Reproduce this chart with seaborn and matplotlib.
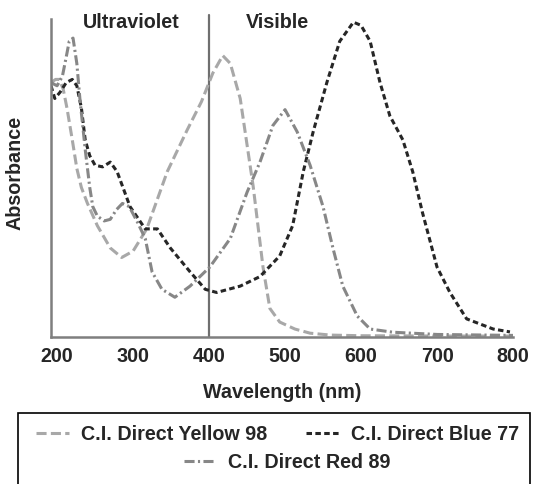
import matplotlib
matplotlib.use("Agg")
import matplotlib.pyplot as plt
import seaborn as sns
import pandas as pd
from matplotlib.patches import Rectangle

# ---- data ----
wl_yellow = [192, 198, 203, 208, 213, 220, 226, 232, 240, 253, 270, 285, 300, 318, 345, 371, 390, 405,
             418, 428, 441, 458, 471, 480, 493, 513, 533, 560, 600, 700, 800]
abs_yellow = [0.80, 0.81, 0.81, 0.78, 0.72, 0.62, 0.53, 0.47, 0.42, 0.35, 0.28, 0.25, 0.27, 0.34, 0.52,
              0.65, 0.74, 0.83, 0.885, 0.86, 0.75, 0.475, 0.22, 0.09, 0.047, 0.025, 0.012, 0.006,
              0.004, 0.003, 0.003]

wl_blue = [192, 197, 204, 212, 220, 226, 232, 237, 243, 250, 260, 270, 279, 296, 316, 332, 349, 375,
           395, 410, 441, 467, 493, 510, 524, 537, 555, 572, 590, 600, 612, 625, 638, 655, 668, 681,
           700, 717, 739, 774, 796]
abs_blue = [0.79, 0.75, 0.77, 0.80, 0.81, 0.79, 0.72, 0.62, 0.57, 0.54, 0.535, 0.55, 0.52, 0.41, 0.34,
            0.34, 0.28, 0.205, 0.15, 0.14, 0.16, 0.19, 0.255, 0.35, 0.52, 0.645, 0.80, 0.93, 0.99,
            0.98, 0.93, 0.80, 0.695, 0.62, 0.52, 0.39, 0.22, 0.14, 0.057, 0.025, 0.016]

wl_red = [192, 200, 207, 212, 216, 221, 226, 230, 237, 243, 247, 253, 262, 270, 278, 286, 295, 306,
          316, 325, 338, 355, 375, 401, 428, 450, 467, 484, 500, 516, 533, 550, 563, 576, 595, 612,
          642, 700, 800]
abs_red = [0.80, 0.79, 0.82, 0.88, 0.93, 0.94, 0.86, 0.75, 0.59, 0.47, 0.41, 0.38, 0.365, 0.37, 0.40,
           0.42, 0.41, 0.36, 0.31, 0.205, 0.15, 0.125, 0.16, 0.22, 0.31, 0.455, 0.55, 0.665, 0.715,
           0.645, 0.54, 0.41, 0.28, 0.16, 0.066, 0.025, 0.015, 0.008, 0.005]

dye_names = ["C.I. Direct Yellow 98", "C.I. Direct Blue 77", "C.I. Direct Red 89"]
x_ticks = [200, 300, 400, 500, 600, 700, 800]
region_labels = ["Ultraviolet", "Visible"]

# ---- style ----
sns.set_theme(style="white")
plt.rcParams["font.family"] = ["Liberation Sans", "DejaVu Sans"]
plt.rcParams["font.weight"] = "bold"
FS = 14.2

colors = {dye_names[0]: "#a8a8a8", dye_names[1]: "#262626", dye_names[2]: "#878787"}
dashes = {dye_names[0]: (3.3, 1.4), dye_names[1]: (1.8, 1.1), dye_names[2]: (3.3, 1.1, 0.7, 1.1)}

df = pd.concat([
    pd.DataFrame({"wl": wl_yellow, "A": abs_yellow, "dye": dye_names[0]}),
    pd.DataFrame({"wl": wl_blue, "A": abs_blue, "dye": dye_names[1]}),
    pd.DataFrame({"wl": wl_red, "A": abs_red, "dye": dye_names[2]}),
], ignore_index=True)

fig = plt.figure(figsize=(5.36, 4.85), dpi=100)
ax = fig.add_axes([51 / 536, 1 - 338 / 485, 462 / 536, 318 / 485])

sns.lineplot(data=df, x="wl", y="A", hue="dye", style="dye", hue_order=dye_names,
             style_order=dye_names, palette=colors, dashes=dashes, estimator=None,
             linewidth=2.2, legend=False, ax=ax)

ax.set_xlim(192, 800)
ax.set_ylim(0, 1.0)
ax.set_xticks(x_ticks)
ax.set_xticklabels([str(t) for t in x_ticks], fontsize=FS, fontweight="bold")
ax.set_yticks([])
ax.tick_params(axis="x", direction="inout", length=3, width=1.5, color="#7f7f7f", pad=5)

for s in ["top", "right"]:
    ax.spines[s].set_visible(False)
for s in ["left", "bottom"]:
    ax.spines[s].set_color("#7f7f7f")
    ax.spines[s].set_linewidth(1.8)

ax.axvline(400, ymin=0, ymax=1.013, color="#6f6f6f", lw=1.6, clip_on=False, zorder=1)

ax.text(297, 0.992, region_labels[0], fontsize=FS, fontweight="bold", ha="center", va="center")
ax.text(490, 0.992, region_labels[1], fontsize=FS, fontweight="bold", ha="center", va="center")

ax.set_xlabel("Wavelength (nm)", fontsize=FS, fontweight="bold")
ax.set_ylabel("Absorbance", fontsize=FS, fontweight="bold")
ax.xaxis.set_label_coords(0.5, (338 - 383) / 318)
ax.yaxis.set_label_coords((25 - 51) / 462, 0.52)

# ---- legend: boxed, two on the first row and one centred below ----
handles = ax.lines[:3]
leg_kw = dict(frameon=False, fontsize=FS, handlelength=1.65, handletextpad=0.6,
              columnspacing=2.0, borderpad=0, borderaxespad=0)
leg1 = fig.legend(handles[:2], dye_names[:2], ncol=2, loc="center",
                  bbox_to_anchor=(277.5 / 536, 1 - 435 / 485), **leg_kw)
leg2 = fig.legend(handles[2:], dye_names[2:], ncol=1, loc="center",
                  bbox_to_anchor=(287 / 536, 1 - 463 / 485), **leg_kw)
for leg in (leg1, leg2):
    for t in leg.get_texts():
        t.set_fontweight("bold")

fig.patches.append(Rectangle((18 / 536, -0.05), (530 - 18) / 536, (485 - 414) / 485 + 0.05,
                             transform=fig.transFigure, fill=False, ec="black", lw=1.2))

fig.savefig("out.png", dpi=100)
